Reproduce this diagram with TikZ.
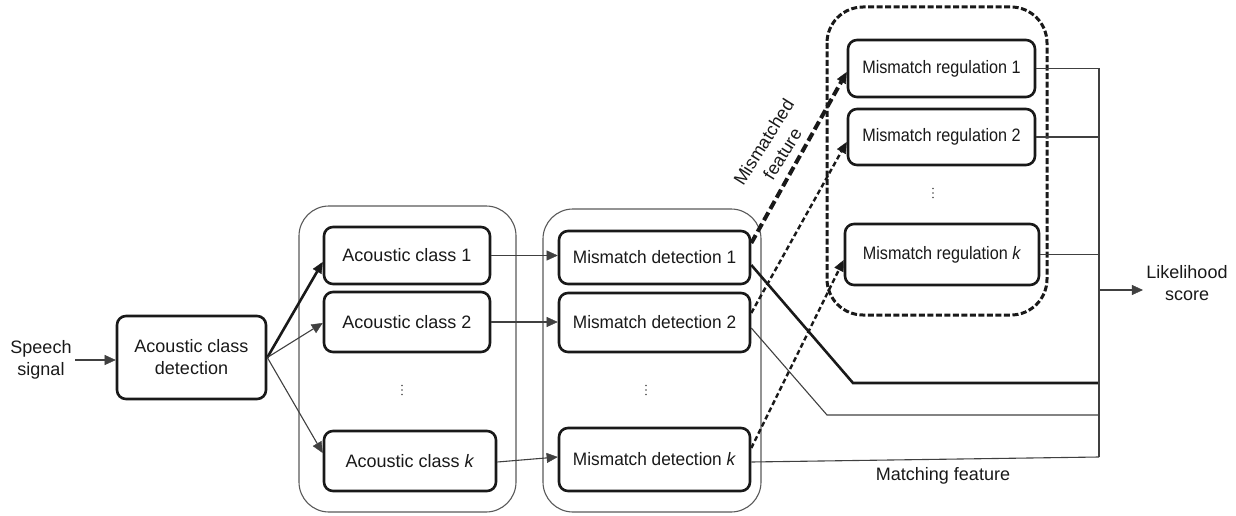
\documentclass[tikz,border=0pt]{standalone}
\usepackage{fontspec}
\setmainfont{Liberation Sans}
\usetikzlibrary{arrows.meta,calc}
\newcommand\narrowtxt[2]{\scalebox{#1}[1]{#2}}
\begin{document}
\begin{tikzpicture}[x=1pt,y=-1pt,
  every node/.style={font=\fontsize{18}{22}\selectfont, text=black!90},
  box/.style={draw=black!90, line width=2.6pt, rounded corners=9pt, inner sep=0pt, align=center},
  grp/.style={draw=black!65, line width=1.1pt, rounded corners=30pt},
  regrp/.style={draw=black!90, line width=3pt, dash pattern=on 6pt off 2.5pt, rounded corners=36pt},
  lnk/.style={draw=black!75, line width=1.1pt},
  tip/.style={-{Triangle[length=11pt,width=10pt,line width=0.4pt]}},
  arr/.style={lnk, tip},
  thk/.style={draw=black!90, line width=2.6pt},
  mis/.style={draw=black!90, line width=2.4pt, dash pattern=on 5pt off 3pt, tip},
  misthk/.style={draw=black!90, line width=4pt, dash pattern=on 9pt off 4pt, tip},
  dot/.style={fill=black!70}
]
\useasboundingbox (0,0) rectangle (1236,516);

% group frames
\draw[grp] (299,206) rectangle (516,512);
\draw[grp] (543,209) rectangle (761,512);
\draw[regrp] (827,7) rectangle (1047,315);

% input
\node[align=center] (speech) at (41,360) {Speech\\signal};
\node[box, minimum width=149pt, minimum height=83pt] (det) at (191.5,357.5) {Acoustic class\\detection};

% acoustic classes
\node[box, minimum width=166pt, minimum height=57pt] (ac1) at (407,255.5) {Acoustic class 1};
\node[box, minimum width=166pt, minimum height=60pt] (ac2) at (407,322) {Acoustic class 2};
\node[box, minimum width=172pt, minimum height=60pt] (ack) at (410,461) {Acoustic class \textit{k}};

% mismatch detection
\node[box, minimum width=191pt, minimum height=53pt] (md1) at (654.5,257.5) {\narrowtxt{0.96}{Mismatch detection 1}};
\node[box, minimum width=191pt, minimum height=59pt] (md2) at (654.5,322.5) {\narrowtxt{0.96}{Mismatch detection 2}};
\node[box, minimum width=191pt, minimum height=63pt] (mdk) at (654.5,459.5) {\narrowtxt{0.96}{Mismatch detection \textit{k}}};

% mismatch regulation
\node[box, minimum width=187pt, minimum height=57pt] (mr1) at (941.5,68.5) {\narrowtxt{0.9}{Mismatch regulation 1}};
\node[box, minimum width=187pt, minimum height=56pt] (mr2) at (941.5,137) {\narrowtxt{0.9}{Mismatch regulation 2}};
\node[box, minimum width=194pt, minimum height=61pt] (mrk) at (942,254.5) {\narrowtxt{0.9}{Mismatch regulation \textit{k}}};

% vertical ellipses between the first two rows and row k
\foreach \cx/\cy in {402/390, 646/390, 933/193} {
  \foreach \dy in {-4.5,0,4.5}
    \fill[dot] (\cx,\cy+\dy) circle (0.9pt);
}

% labels
\node[align=center, rotate=58] (mislbl) at (773,148) {Mismatched\\feature};
\node (matchlbl) at (943,476) {Matching feature};
\node[align=center] (score) at (1187,283.5) {Likelihood\\score};

% combining bus
\coordinate (btop) at (1099,68.5);
\coordinate (bbot) at (1099,457);
\coordinate (lk) at (1099,290);
\coordinate (k1) at (853,383);
\coordinate (k2) at (827,415);

% signal into detector
\draw[arr] (speech.east) -- (speech.east -| det.west);

% detector to classes
\draw[thk, tip] (det.east) -- ([yshift=-6.5pt]ac1.west);
\draw[arr] (det.east) -- ([yshift=-1pt]ac2.west);
\draw[arr] (det.east) -- ([yshift=8pt]ack.west);

% classes to mismatch detection
\draw[arr] (ac1.east) -- (ac1.east -| md1.west);
\draw[arr] (ac2.east) -- (ac2.east -| md2.west);
\draw[arr] ([yshift=-1pt]ack.east) -- ([yshift=2.5pt]mdk.west);

% mismatched features
\draw[misthk] ([yshift=14.5pt]md1.east) -- ([yshift=-3.5pt]mr1.west);
\draw[mis] ([yshift=9.5pt]md2.east) -- ([yshift=-5pt]mr2.west);
\draw[mis] ([yshift=11.5pt]mdk.east) -- ([yshift=-5.5pt]mrk.west);

% matching features
\draw[thk] ([yshift=-7.5pt]md1.east) -- (k1) -- (k1 -| btop);
\draw[lnk] ([yshift=-5.5pt]md2.east) -- (k2) -- (k2 -| btop);
\draw[lnk] ([yshift=-2.5pt]mdk.east) -- (bbot);

% regulated outputs to the bus
\draw[lnk] (mr1.east) -- (mr1.east -| btop);
\draw[lnk] (mr2.east) -- (mr2.east -| btop);
\draw[lnk] (mrk.east) -- (mrk.east -| btop);
\draw[lnk] (btop) -- (bbot);
\draw[arr] (lk) -- (lk -| score.west);
\end{tikzpicture}
\end{document}
